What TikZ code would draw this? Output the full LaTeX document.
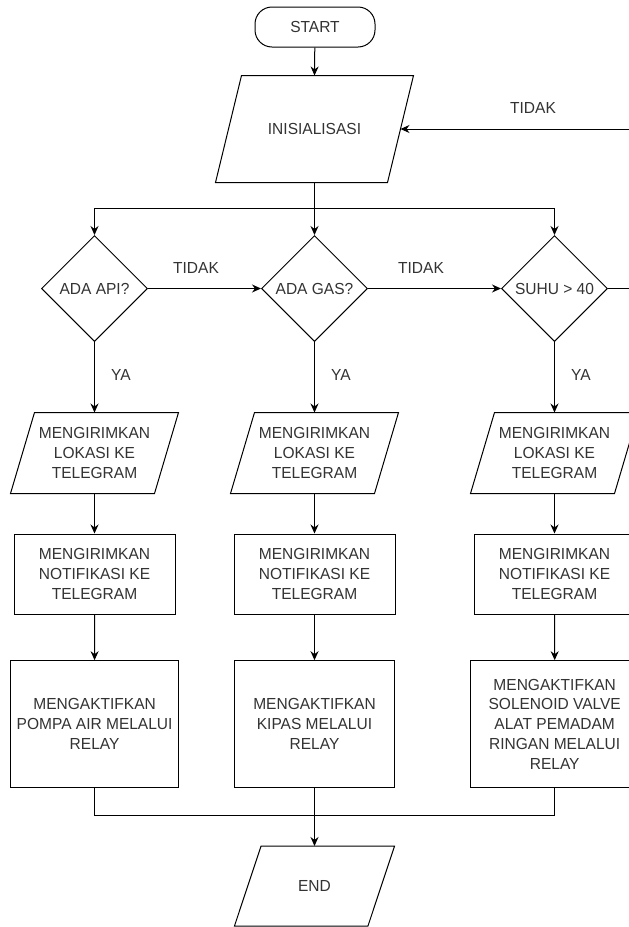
\documentclass[tikz,border=0pt]{standalone}
\usepackage{fontspec}
\setmainfont{Liberation Sans}[FakeStretch=0.97]
\usetikzlibrary{arrows.meta,shapes.geometric}
\newcommand\paraio[2]{\draw[ioline] ([xshift=#2]#1.north west) -- ([xshift=#2]#1.north east) -- ([xshift=-#2]#1.south east) -- ([xshift=-#2]#1.south west) -- cycle;}
\begin{document}
\begin{tikzpicture}[x=1pt,y=-1pt,
  base/.style={font=\fontsize{16}{19.8}\selectfont, text=black!80, align=center, inner sep=0pt, line width=1pt},
  term/.style={base, draw, rounded corners=17pt, minimum width=120pt, minimum height=40pt},
  proc/.style={base, draw, minimum height=80pt},
  dec/.style={base, draw, diamond, aspect=1, minimum width=106pt, minimum height=106pt},
  io/.style={base},
  lbl/.style={font=\fontsize{16}{19.8}\selectfont, text=black!80, inner sep=0pt},
  arr/.style={line width=1pt, -{Stealth[length=9pt,width=8pt]}},
  ln/.style={line width=1pt},
  ioline/.style={line width=1pt, line join=miter}
]
\useasboundingbox (0,0) rectangle (629,927);
\clip (0,0) rectangle (629,927);

% nodes
\node[term] (start) at (315,27) {START};
\node[io, minimum width=171pt, minimum height=106pt] (inis) at (314.5,129) {INISIALISASI};
\paraio{inis}{13pt}

\node[dec] (d1) at (94.5,288.5) {ADA API?};
\node[dec] (d2) at (314.5,288.5) {ADA GAS?};
\node[dec] (d3) at (554.5,288.5) {SUHU > 40};

\node[io, minimum width=143pt, minimum height=80pt] (p1) at (94.5,453) {MENGIRIMKAN\\LOKASI KE\\TELEGRAM};
\node[io, minimum width=143pt, minimum height=80pt] (p2) at (314.5,453) {MENGIRIMKAN\\LOKASI KE\\TELEGRAM};
\node[io, minimum width=143pt, minimum height=80pt] (p3) at (554.5,453) {MENGIRIMKAN\\LOKASI KE\\TELEGRAM};
\paraio{p1}{12pt}
\paraio{p2}{12pt}
\paraio{p3}{12pt}

\node[proc, minimum width=161pt] (r1) at (94.5,574) {MENGIRIMKAN\\NOTIFIKASI KE\\TELEGRAM};
\node[proc, minimum width=161pt] (r2) at (314.5,574) {MENGIRIMKAN\\NOTIFIKASI KE\\TELEGRAM};
\node[proc, minimum width=161pt] (r3) at (554.5,574) {MENGIRIMKAN\\NOTIFIKASI KE\\TELEGRAM};

\node[proc, minimum width=168pt, minimum height=127pt] (a1) at (94.6,724.2) {MENGAKTIFKAN\\POMPA AIR MELALUI\\RELAY};
\node[proc, minimum width=160pt, minimum height=127pt] (a2) at (314.5,724.2) {MENGAKTIFKAN\\KIPAS MELALUI\\RELAY};
\node[proc, minimum width=168pt, minimum height=127pt] (a3) at (554.7,724.2) {MENGAKTIFKAN\\SOLENOID VALVE\\ALAT PEMADAM\\RINGAN MELALUI\\RELAY};

\node[io, minimum width=132.5pt, minimum height=79pt] (end) at (314.5,886) {END};
\paraio{end}{13.3pt}

% labels
\node[lbl] (t0) at (533,108) {TIDAK};
\node[lbl] (t1) at (196,268) {TIDAK};
\node[lbl] (t2) at (421,268) {TIDAK};
\node[lbl] (y1) at (121,375) {YA};
\node[lbl] (y2) at (341,375) {YA};
\node[lbl] (y3) at (581,375) {YA};

% coordinates
\coordinate (split) at (314.5,208);
\coordinate (merge) at (314.5,815);

% connectors
\draw[arr] (start) -- (inis.north);
\draw[ln] (inis.south) -- (split);
\draw[arr] (split) -- (d2.north);
\draw[arr] (split) -| (d1.north);
\draw[arr] (split) -| (d3.north);

\draw[arr] (d1.east) -- (d2.west);
\draw[arr] (d2.east) -- (d3.west);
\draw[arr] (d3.east) -- ++(45,0) |- (inis.east);

\draw[arr] (d1.south) -- (p1.north);
\draw[arr] (d2.south) -- (p2.north);
\draw[arr] (d3.south) -- (p3.north);

\draw[arr] (p1.south) -- (r1.north);
\draw[arr] (p2.south) -- (r2.north);
\draw[arr] (p3.south) -- (r3.north);

\draw[arr] (r1.south) -- (a1.north);
\draw[arr] (r2.south) -- (a2.north);
\draw[arr] (r3.south) -- (a3.north);

\draw[ln] (a1.south) |- (merge);
\draw[ln] (a3.south) |- (merge);
\draw[arr] (a2.south) -- (end.north);
\end{tikzpicture}
\end{document}
